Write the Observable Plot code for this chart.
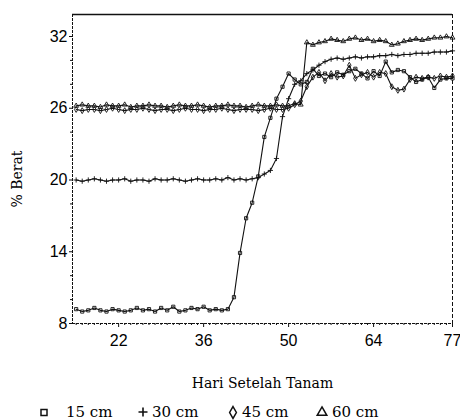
<!DOCTYPE html>
<html>
<head>
<meta charset="utf-8">
<script src="https://cdn.jsdelivr.net/npm/d3@7"></script>
<script src="https://cdn.jsdelivr.net/npm/@observablehq/plot@0.6"></script>
<style>
  body { margin: 0; background: #fff; }
  #wrap { position: relative; width: 460px; height: 420px; overflow: hidden; }
  #legend { position: absolute; left: 0; top: 404px; width: 460px; height: 16px;
            font-family: "DejaVu Serif", serif; font-size: 15px; line-height: 16px; color: #000; }
  #legend .item { position: absolute; top: 0; white-space: nowrap; }
  #legend svg { position: absolute; overflow: visible; }
</style>
</head>
<body>
<div id="wrap"><div id="chart"></div><div id="legend"></div></div>
<script>
// Days after planting
const days = d3.range(15, 78);

// Series names, their plotting symbols
const seriesNames = ["15 cm", "30 cm", "45 cm", "60 cm"];
const seriesSymbols = ["square", "plus", "diamond", "triangle"];

// Axis ticks
const xTicks = [22, 36, 50, 64, 77];
const yTicks = [8, 14, 20, 26, 32];
const yMinorTicks = [10, 12, 16, 18, 22, 24, 28, 30];

// % weight per day (days 15..77)
const cm15 = [
  9.2, 9.0, 9.1, 9.3, 9.1, 9.0, 9.2, 9.1, 9.0, 9.1, 9.3, 9.1, 9.2, 9.0, 9.3, 9.1, 9.4, 9.0, 9.1, 9.3, 9.2, 9.4, 9.1, 9.2, 9.1, 9.2,
  10.2, 13.9, 16.8, 18.1, 20.3, 23.6, 25.2, 26.8,
  27.8, 28.9, 28.4, 28.0, 28.2, 29.3, 28.7, 28.9, 28.6, 29.0, 28.8, 29.1, 29.3, 28.9, 28.5, 29.1, 28.7, 29.9, 29.0, 29.2, 29.1, 28.6, 28.2, 28.4, 28.6, 27.7, 28.4, 28.5, 28.5
];
const cm30 = [
  20.0, 19.9, 20.0, 20.1, 20.0, 19.9, 20.0, 20.0, 20.1, 19.9, 20.0, 20.0, 19.9, 20.1, 20.0, 20.0, 20.1, 20.0, 19.9, 20.0, 20.1, 20.0, 20.0, 20.1, 20.0, 20.2, 20.0, 20.1, 20.0, 20.1,
  20.2, 20.5, 20.8, 21.8, 25.3, 26.8, 28.0, 28.3, 28.9, 29.2, 29.6, 29.9, 30.1, 30.2, 30.1, 30.2, 30.3, 30.2, 30.3, 30.3, 30.4, 30.4, 30.5, 30.4, 30.5, 30.5, 30.6, 30.6, 30.6, 30.7, 30.7, 30.7, 30.8
];
const cm45 = [
  25.9, 25.8, 25.9, 25.9, 25.8, 25.9, 26.0, 25.9, 25.8, 25.9, 25.9, 26.0, 25.9, 25.8, 25.9, 25.9, 25.8, 25.9, 26.0, 25.9, 25.9, 25.8, 25.9, 25.9, 26.0, 25.9, 25.8, 25.9, 25.9, 25.9, 25.8, 25.9, 26.0, 25.9, 25.9, 26.0,
  26.3, 26.6, 27.8, 28.6, 29.0, 28.3, 28.9, 28.6, 28.7, 29.6, 28.5, 28.8, 29.0, 28.6, 29.0, 28.9, 27.8, 27.5, 27.6, 28.4, 28.6, 28.5, 28.6, 28.5, 28.7, 28.6, 28.7
];
const cm60 = [
  26.2, 26.3, 26.2, 26.2, 26.1, 26.3, 26.2, 26.2, 26.3, 26.1, 26.2, 26.2, 26.3, 26.2, 26.2, 26.1, 26.2, 26.3, 26.2, 26.2, 26.3, 26.2, 26.1, 26.2, 26.2, 26.3, 26.2, 26.2, 26.1, 26.2, 26.3, 26.2, 26.2, 26.3, 26.2, 26.2, 26.4, 26.3,
  31.5, 31.3, 31.5, 31.6, 31.8, 31.7, 31.6, 31.8, 31.9, 31.7, 31.8, 31.6, 31.7, 31.6, 31.3, 31.4, 31.6, 31.7, 31.8, 31.7, 31.8, 31.9, 31.9, 32.0, 31.9
];

const seriesValues = [cm15, cm30, cm45, cm60];
seriesValues.forEach((vals, i) => {
  if (vals.length !== days.length) throw new Error(`${seriesNames[i]}: ${vals.length} values`);
});

// Long-format table for Plot
const rows = [];
seriesValues.forEach((vals, i) => vals.forEach((v, j) => rows.push({day: days[j], pct: v, series: seriesNames[i]})));

const xMin = 14.4, xMax = 77, yMin = 8, yMax = 33.84;
const xMinor = d3.range(15, 77).filter(d => !xTicks.includes(d));
const ink = "#111";

const chart = Plot.plot({
  width: 460,
  height: 400,
  marginTop: 14,
  marginLeft: 72,
  marginRight: 8,
  marginBottom: 77,
  x: {domain: [xMin, xMax]},
  y: {domain: [yMin, yMax]},
  symbol: {domain: seriesNames, range: seriesSymbols},
  style: {fontFamily: "'Liberation Sans', Arial, sans-serif", fontSize: "16px", background: "#fff", color: "#000"},
  marks: [
    // frame: solid top, dashed sides and bottom
    Plot.ruleY([yMax], {stroke: ink, strokeWidth: 1.3}),
    Plot.ruleY([yMin], {stroke: ink, strokeWidth: 1, strokeDasharray: "3,1"}),
    Plot.ruleX([xMin], {stroke: ink, strokeWidth: 1, strokeDasharray: "3,1"}),
    Plot.ruleX([xMax], {stroke: ink, strokeWidth: 1, strokeDasharray: "4,2"}),
    // minor ticks
    Plot.axisX({ticks: xMinor, tickSize: 2, tickFormat: () => "", label: null, stroke: ink}),
    Plot.axisY({ticks: yMinorTicks, tickSize: 2, tickFormat: () => "", label: null, stroke: ink}),
    // major ticks and labels
    Plot.axisX({ticks: xTicks, tickSize: 4, tickPadding: 7, tickFormat: d => String(d), fontSize: 16, label: null, stroke: ink}),
    Plot.axisY({ticks: yTicks, tickSize: 3, tickPadding: 2, tickFormat: d => String(d), fontSize: 16, label: null, stroke: ink}),
    // series
    Plot.line(rows, {x: "day", y: "pct", z: "series", stroke: ink, strokeWidth: 1.1}),
    Plot.dot(rows, {x: "day", y: "pct", symbol: "series", r: 1.8, stroke: ink, strokeWidth: 0.9, fill: "none"}),
    // axis titles
    Plot.text(["Hari Setelah Tanam"], {frameAnchor: "bottom", dy: 60, lineAnchor: "middle", fontFamily: "'DejaVu Serif', serif", fontSize: 14}),
    Plot.text(["% Berat"], {frameAnchor: "left", dx: -55, dy: 10, rotate: -90, textAnchor: "middle", lineAnchor: "middle", fontFamily: "'DejaVu Serif', serif", fontSize: 14})
  ]
});
document.getElementById("chart").appendChild(chart);

// Legend row below the chart
const legendPos = [
  {sym: 44, text: 66},
  {sym: 143, text: 152},
  {sym: 233, text: 242},
  {sym: 322, text: 332}
];
const symbolTypes = {square: d3.symbolSquare, plus: d3.symbolCross, diamond: d3.symbolDiamond, triangle: d3.symbolTriangle};
const legend = d3.select("#legend");
seriesNames.forEach((name, i) => {
  const type = seriesSymbols[i];
  const svg = legend.append("svg")
    .attr("width", 12).attr("height", 12)
    .style("left", (legendPos[i].sym - 6) + "px")
    .style("top", "2px");
  if (type === "plus") {
    svg.append("path").attr("d", "M6,1.5V10.5M1.5,6H10.5").attr("stroke", ink).attr("stroke-width", 1.6).attr("fill", "none");
  } else {
    svg.append("path")
      .attr("transform", "translate(6,6.5)")
      .attr("d", d3.symbol(symbolTypes[type], type === "square" ? 36 : 40)())
      .attr("stroke", ink).attr("stroke-width", 1.5).attr("fill", "none");
  }
  legend.append("span").attr("class", "item").style("left", legendPos[i].text + "px").text(name);
});
</script>
</body>
</html>
